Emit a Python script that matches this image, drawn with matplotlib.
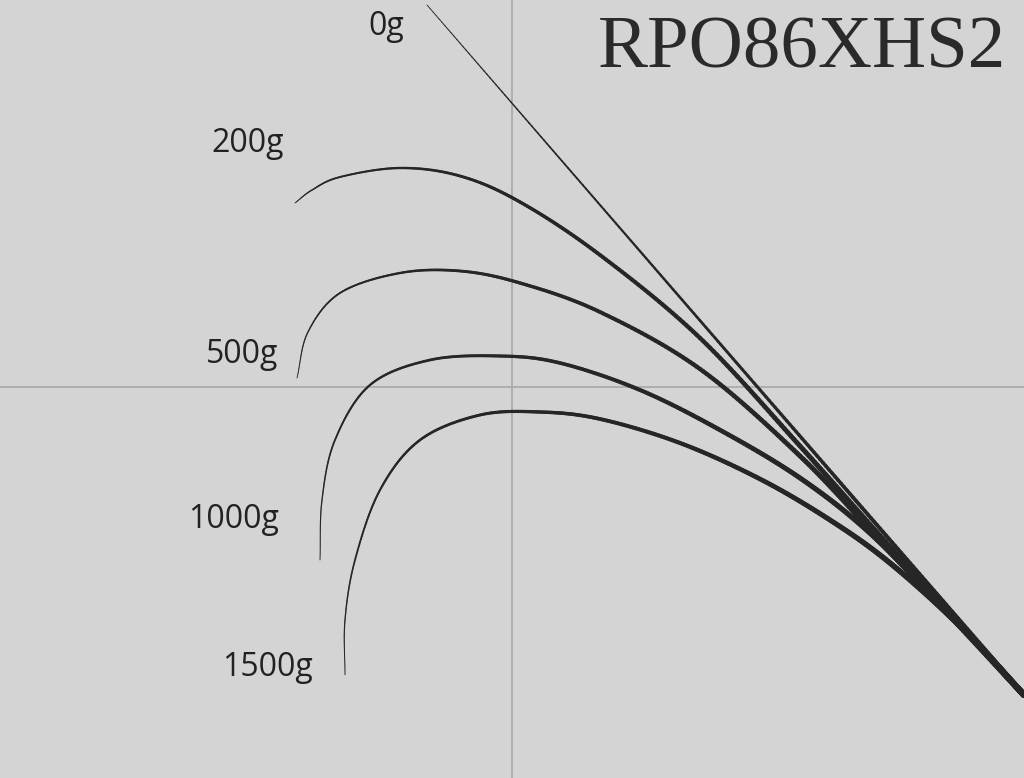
import numpy as np
import matplotlib.pyplot as plt
from matplotlib.collections import LineCollection

# curve points (pixel space, y downward)
load_labels = ['0g', '200g', '500g', '1000g', '1500g']
label_pos = [(386, 26), (248, 143), (242, 354), (234, 520), (267, 668)]

curve_0 = [(427, 5), (1024, 695)]
curve_200 = [(295, 203), (312, 190), (340, 177), (400, 168), (460, 176), (520, 202),
             (600, 255), (700, 338), (800, 446), (880, 536), (960, 624), (1024, 695)]
curve_500 = [(297, 378), (308, 332), (340, 293), (400, 273), (460, 271), (520, 283),
             (600, 312), (700, 369), (800, 456), (880, 540), (960, 625), (1024, 695)]
curve_1000 = [(320, 560), (322, 500), (335, 440), (370, 385), (430, 360), (500, 356),
              (560, 363), (640, 390), (720, 430), (800, 478), (870, 533), (940, 605), (1024, 695)]
curve_1500 = [(345, 675), (345, 620), (355, 560), (380, 490), (420, 440), (480, 415),
              (540, 412), (600, 419), (680, 443), (760, 479), (830, 520), (890, 563),
              (960, 626), (1024, 695)]
curves = [curve_0, curve_200, curve_500, curve_1000, curve_1500]


def smooth(pts, n=30):
    p = np.array(pts, dtype=float)
    if len(p) < 3:
        t = np.linspace(0, 1, 200)[:, None]
        return p[0] + (p[1] - p[0]) * t
    p = np.vstack([2 * p[0] - p[1], p, 2 * p[-1] - p[-2]])
    out = []
    for i in range(1, len(p) - 2):
        p0, p1, p2, p3 = p[i - 1], p[i], p[i + 1], p[i + 2]
        for t in np.linspace(0, 1, n, endpoint=False):
            out.append(0.5 * (2 * p1 + (-p0 + p2) * t + (2 * p0 - 5 * p1 + 4 * p2 - p3) * t ** 2
                              + (-p0 + 3 * p1 - 3 * p2 + p3) * t ** 3))
    out.append(p[-2])
    return np.array(out)


fig = plt.figure(figsize=(10.24, 7.78), dpi=100)
ax = fig.add_axes([0, 0, 1, 1])
ax.set_xlim(0, 1024)
ax.set_ylim(778, 0)
ax.axis('off')
ax.add_patch(plt.Rectangle((0, 0), 1024, 778, color='#d4d4d4', zorder=0))
ax.axvline(512, color='#a8a8a8', lw=1.2, zorder=1)
ax.axhline(387, color='#a8a8a8', lw=1.2, zorder=1)

for pts in curves:
    xy = smooth(pts)
    segs = np.stack([xy[:-1], xy[1:]], axis=1)
    w = np.linspace(0.6, 4.5, len(segs)) if len(pts) > 2 else np.linspace(0.6, 3.5, len(segs))
    ax.add_collection(LineCollection(segs, linewidths=w, colors='#262626', capstyle='round', zorder=3))

for lab, (x, y) in zip(load_labels, label_pos):
    ax.text(x, y, lab, fontsize=23, family='Open Sans', color='#222222', ha='center', va='center')

ax.text(1006, 50, 'RPO86XHS2', fontsize=54, family='Liberation Serif', color='#2a2a2a',
        ha='right', va='center')

fig.savefig('out.png', dpi=100)
